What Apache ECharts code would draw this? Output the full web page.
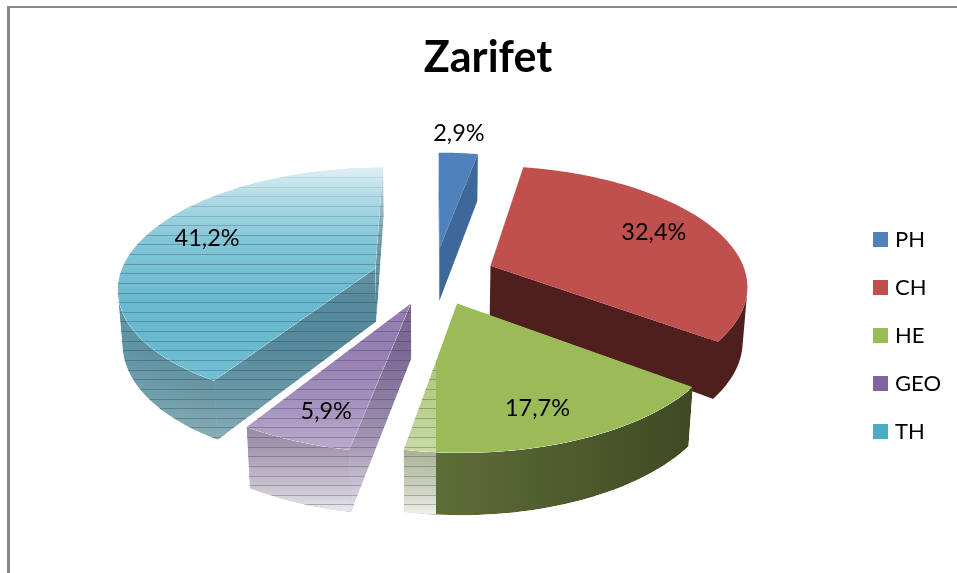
<!DOCTYPE html>
<html>
<head>
<meta charset="utf-8">
<style>
  html, body { margin: 0; padding: 0; background: #fff; }
  #chart { width: 957px; height: 573px; }
</style>
<script src="https://cdn.jsdelivr.net/npm/echarts@6/dist/echarts.min.js"></script>
</head>
<body>
<div id="chart"></div>
<script>
const categories = ['PH', 'CH', 'HE', 'GEO', 'TH']
const percents = [2.9, 32.4, 17.7, 5.9, 41.2]
const chartTitle = 'Zarifet'

// face colours of each slice
const topColors = ['#4f81bd', '#c0504d', '#9bbb59', '#8064a2', '#4bacc6']
const cutColors = ['#3d6899', '#4f1f1d', '#4d5c2b', '#604b7d', '#347387']
const arcColors = [
  ['#3d6899', '#3d6899'],
  ['#4f1f1d', '#4f1f1d'],
  ['#62723a', '#3e4a23'],
  ['#5a4570', '#5a4570'],
  ['#3f8094', '#33707f']
]
// how far along the middle angle each label sits, 1 = rim
const labelRadius = [1.22, 0.74, 0.79, 0.8, 0.74]
const labelNudge = [[-3, -2], [-2, -4], [-8, 0], [5, 2], [5, -7]]

// projection of the tilted pie
const cam = { cx: 434, cy: 276, a: 256, b: 118, persp: 0.15, depth: 54.5, depthW: 0.015 }
const explode = 0.24
const fadeRight = 436 // the washed out stripes stop here

const project = (x, y, h) => {
  const w = 1 - cam.persp * y + cam.depthW * h
  return [cam.cx + cam.a * x / w, cam.cy + (cam.b * y + cam.depth * h) / w]
}

const area = (pts) => {
  let s = 0
  for (let i = 0; i < pts.length; i++) {
    const p = pts[i], q = pts[(i + 1) % pts.length]
    s += p[0] * q[1] - q[0] * p[1]
  }
  return s / 2
}

const total = percents.reduce((a, b) => a + b, 0)

const washGradient = {
  type: 'linear', x: 0, y: 0, x2: 0, y2: 1,
  colorStops: [
    { offset: 0.02, color: 'rgba(255,255,255,0.82)' },
    { offset: 0.11, color: 'rgba(255,255,255,0.55)' },
    { offset: 0.22, color: 'rgba(255,255,255,0.32)' },
    { offset: 0.39, color: 'rgba(255,255,255,0.17)' },
    { offset: 0.53, color: 'rgba(255,255,255,0.17)' },
    { offset: 0.67, color: 'rgba(255,255,255,0.28)' },
    { offset: 0.81, color: 'rgba(255,255,255,0.45)' },
    { offset: 0.93, color: 'rgba(255,255,255,0.7)' },
    { offset: 0.99, color: 'rgba(255,255,255,0.88)' }
  ]
}

// one face, with wash and stripes when it lies left of fadeRight
const faceEl = (pts, fill) => {
  const face = { type: 'polygon', shape: { points: pts }, style: { fill: fill } }
  const minX = Math.min(...pts.map(p => p[0]))
  if (minX >= fadeRight) return face
  const children = [face, {
    type: 'rect',
    shape: { x: 0, y: 160, width: fadeRight, height: 356 },
    style: { fill: washGradient }
  }]
  const minY = Math.min(...pts.map(p => p[1]))
  const maxY = Math.max(...pts.map(p => p[1]))
  for (let y = 167.4; y < 516; y += 9.63) {
    if (y < minY || y > maxY) continue
    const alpha = Math.min(0.28, 0.05 + (y - 167) * 0.003)
    const sy = Math.round(y) + 0.5
    children.push({
      type: 'line',
      shape: { x1: minX, y1: sy, x2: fadeRight, y2: sy },
      style: { stroke: 'rgba(30,40,60,' + alpha + ')', lineWidth: 1.1 }
    })
  }
  return {
    type: 'group',
    clipPath: { type: 'polygon', shape: { points: pts } },
    children: children
  }
}

const renderSlice = (params, api) => {
  const i = params.seriesIndex
  const before = percents.slice(0, i).reduce((a, b) => a + b, 0)
  const t0 = before / total * Math.PI * 2
  const t1 = t0 + api.value(0) / total * Math.PI * 2
  const mid = (t0 + t1) / 2
  const ex = explode * Math.sin(mid)
  const ey = -explode * Math.cos(mid)

  const rim = []
  const steps = Math.max(4, Math.round((t1 - t0) / 0.03))
  for (let k = 0; k <= steps; k++) {
    const t = t0 + (t1 - t0) * k / steps
    rim.push([Math.sin(t) + ex, -Math.cos(t) + ey])
  }
  const first = rim[0]
  const last = rim[rim.length - 1]
  const apex = [ex, ey]
  const top = (p) => project(p[0], p[1], 0)
  const bot = (p) => project(p[0], p[1], 1)
  const wallPts = (a, b) => [top(a), top(b), bot(b), bot(a)]
  const towardApex = (p) => [p[0] + (apex[0] - p[0]) * 0.04, p[1] + (apex[1] - p[1]) * 0.04]

  const children = []

  // the two cut walls, seen only when they face the viewer
  const startSeen = area(wallPts(apex, first)) < 0
  const endSeen = area(wallPts(last, apex)) < 0

  // rim wall: only the part that faces the viewer
  let seen = []
  for (let k = 0; k < rim.length - 1; k++) {
    if (area(wallPts(rim[k], rim[k + 1])) < 0) {
      if (!seen.length) seen.push(rim[k])
      seen.push(rim[k + 1])
    }
  }
  if (seen.length) {
    // run a little under a cut wall, so no seam shows between them
    if (startSeen && seen[0] === first) seen = [towardApex(first)].concat(seen)
    if (endSeen && seen[seen.length - 1] === last) seen = seen.concat([towardApex(last)])
    const pts = seen.map(top).concat(seen.slice().reverse().map(bot))
    children.push(faceEl(pts, {
      type: 'linear', x: 0, y: 0, x2: 1, y2: 0,
      colorStops: [
        { offset: 0, color: arcColors[i][0] },
        { offset: 1, color: arcColors[i][1] }
      ]
    }))
  }
  if (startSeen) children.push(faceEl(wallPts(apex, first), cutColors[i]))
  if (endSeen) children.push(faceEl(wallPts(last, apex), cutColors[i]))

  // top face
  children.push(faceEl([top(apex)].concat(rim.map(top)), topColors[i]))

  // data label
  const lr = labelRadius[i]
  const lp = top([ex + lr * Math.sin(mid), ey - lr * Math.cos(mid)])
  children.push({
    type: 'text',
    x: lp[0] + labelNudge[i][0],
    y: lp[1] + labelNudge[i][1],
    style: {
      text: api.value(0).toFixed(1).replace('.', ',') + '%',
      fill: '#000',
      font: '23.5px Lato',
      align: 'center',
      verticalAlign: 'middle'
    }
  })

  return { type: 'group', children: children }
}

const chart = echarts.init(document.getElementById('chart'), null, { renderer: 'canvas' })
chart.setOption({
  animation: false,
  backgroundColor: '#fff',
  color: topColors,
  title: {
    text: chartTitle,
    left: 483,
    top: 32,
    textAlign: 'center',
    textStyle: { color: '#000', fontFamily: 'Lato', fontWeight: 'bold', fontSize: 43 }
  },
  legend: {
    orient: 'vertical',
    left: 868,
    top: 223,
    icon: 'rect',
    itemWidth: 15,
    itemHeight: 15,
    itemGap: 25,
    selectedMode: false,
    data: categories,
    textStyle: { color: '#000', fontFamily: 'Lato', fontSize: 22, lineHeight: 23, padding: [0, 0, 0, 2] }
  },
  graphic: [
    { type: 'rect', shape: { x: 7, y: 6, width: 950, height: 2 }, style: { fill: '#888' } },
    { type: 'rect', shape: { x: 7, y: 6, width: 3, height: 567 }, style: { fill: '#888' } }
  ],
  series: categories.map((name, i) => ({
    type: 'custom',
    name: name,
    coordinateSystem: 'none',
    silent: true,
    itemStyle: { color: topColors[i] },
    renderItem: renderSlice,
    data: [[percents[i]]]
  }))
})
</script>
</body>
</html>
